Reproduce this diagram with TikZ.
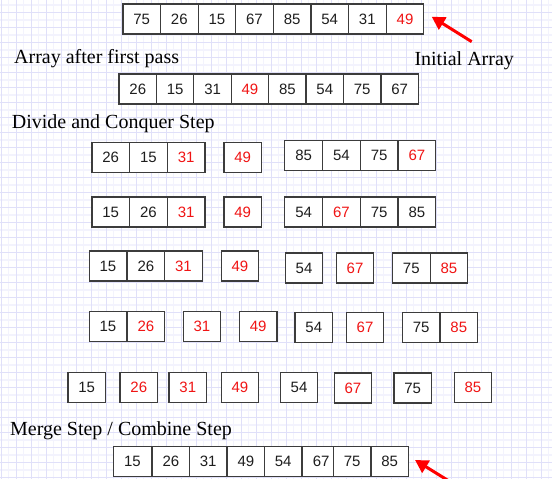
\documentclass[tikz,border=0pt]{standalone}
\usepackage{fontspec}
\setmainfont{Liberation Serif}
\newfontfamily\numfont{Liberation Sans}
\usetikzlibrary{arrows.meta}
\definecolor{gridmaj}{RGB}{224,224,249}
\definecolor{gridmin}{RGB}{243,243,253}
\definecolor{boxc}{RGB}{60,60,60}
\definecolor{numc}{RGB}{30,30,30}
\definecolor{redc}{RGB}{240,20,20}
\definecolor{arrowred}{RGB}{255,0,0}
\begin{document}
\begin{tikzpicture}[x=1pt,y=-1pt,
  cell/.style={draw=boxc,line width=1.2pt,fill=white,minimum width=37.6pt,minimum height=30pt,inner sep=0pt,outer sep=0pt,anchor=north west,font=\numfont\fontsize{15}{18}\selectfont,text=numc},
  hl/.style={text=redc},
  lbl/.style={anchor=base west,inner sep=0pt,font=\fontsize{20}{24}\selectfont},
  redarrow/.style={draw=arrowred,line width=3pt,-{Triangle[length=13pt,width=14pt]}}]
\useasboundingbox (0,0) rectangle (552,479);
\begin{scope}
\clip (0,0) rectangle (552,479);
\fill[white] (0,0) rectangle (552,479);
\foreach \i in {0,...,37} {
  \draw[gridmin,line width=1.6pt] ({8.5+15*\i},0) -- ({8.5+15*\i},479);
  \draw[gridmin,line width=1.6pt] (0,{4.8+15*\i}) -- (552,{4.8+15*\i});
}
\foreach \i in {0,...,37} {
  \draw[gridmaj,line width=0.9pt] ({1+15*\i},0) -- ({1+15*\i},479);
  \draw[gridmaj,line width=0.9pt] (0,{-2.7+15*\i}) -- (552,{-2.7+15*\i});
}

% initial array
\node[cell] (t1) at (122.9,4) {75};
\node[cell] (t2) at (160.5,4) {26};
\node[cell] (t3) at (198.1,4) {15};
\node[cell] (t4) at (235.7,4) {67};
\node[cell] (t5) at (273.3,4) {85};
\node[cell] (t6) at (310.9,4) {54};
\node[cell] (t7) at (348.5,4) {31};
\node[cell,hl] (t8) at (386.2,4) {49};

% after first pass
\node[cell] (s1) at (119,74) {26};
\node[cell] (s2) at (156.4,74) {15};
\node[cell] (s3) at (193.8,74) {31};
\node[cell,hl] (s4) at (231.2,74) {49};
\node[cell] (s5) at (268.6,74) {85};
\node[cell] (s6) at (306,74) {54};
\node[cell] (s7) at (343.4,74) {75};
\node[cell] (s8) at (380.9,74) {67};

% divide row 1
\node[cell] (a1) at (91.9,142.3) {26};
\node[cell] (a2) at (129.7,142.3) {15};
\node[cell,hl] (a3) at (167.3,142.3) {31};
\node[cell,hl] (a4) at (223.9,142.3) {49};
\node[cell] (a5) at (284.8,140.5) {85};
\node[cell] (a6) at (322.6,140.5) {54};
\node[cell] (a7) at (360.4,140.5) {75};
\node[cell,hl] (a8) at (398.1,140.5) {67};

% divide row 2
\node[cell] (b1) at (91.9,197) {15};
\node[cell] (b2) at (129.7,197) {26};
\node[cell,hl] (b3) at (167.3,197) {31};
\node[cell,hl] (b4) at (223.9,197) {49};
\node[cell] (b5) at (284.8,197) {54};
\node[cell,hl] (b6) at (322.6,197) {67};
\node[cell] (b7) at (360.4,197) {75};
\node[cell] (b8) at (398.1,197) {85};

% divide row 3
\node[cell] (c1) at (89.1,251) {15};
\node[cell] (c2) at (127.1,251) {26};
\node[cell,hl] (c3) at (164.6,251) {31};
\node[cell,hl] (c4) at (221.1,251) {49};
\node[cell] (c5) at (285.2,253) {54};
\node[cell,hl] (c6) at (336.2,253) {67};
\node[cell] (c7) at (392.5,253) {75};
\node[cell,hl] (c8) at (430.1,253) {85};

% divide row 4
\node[cell] (d1) at (89.1,311.7) {15};
\node[cell,hl] (d2) at (127.1,311.7) {26};
\node[cell,hl] (d3) at (183.1,311.7) {31};
\node[cell,hl] (d4) at (239.4,311.7) {49};
\node[cell] (d5) at (295,312.7) {54};
\node[cell,hl] (d6) at (346.2,312.7) {67};
\node[cell] (d7) at (402.4,312.7) {75};
\node[cell,hl] (d8) at (440,312.7) {85};

% divide row 5
\node[cell] (e1) at (67.9,372.3) {15};
\node[cell,hl] (e2) at (120,372.3) {26};
\node[cell,hl] (e3) at (169,372.3) {31};
\node[cell,hl] (e4) at (221.1,372.3) {49};
\node[cell] (e5) at (280.2,372.3) {54};
\node[cell,hl] (e6) at (334.1,373) {67};
\node[cell] (e7) at (393.9,373) {75};
\node[cell,hl] (e8) at (454.1,372.3) {85};

% merged
\node[cell] (f1) at (113.7,446.7) {15};
\node[cell] (f2) at (152.1,446.7) {26};
\node[cell] (f3) at (189.4,446.7) {31};
\node[cell] (f4) at (227.1,446.7) {49};
\node[cell] (f5) at (264.4,446.7) {54};
\node[cell] (f6) at (302.3,446.7) {67};
\node[cell] (f7) at (333.3,446.7) {75};
\node[cell,minimum width=37.3pt] (f8) at (371,446.7) {85};

% labels
\node[lbl] (l1) at (14,63.5) {Array after first pass};
\node[lbl] (l2) at (414.3,65) {Initial Array};
\node[lbl] (l3) at (11.7,128.3) {Divide and Conquer Step};
\node[lbl] (l4) at (9.9,435) {Merge Step / Combine Step};

% arrows
\coordinate (p1tail) at (471.7,41.7);
\coordinate (p1tip) at (431.7,16.7);
\draw[redarrow] (p1tail) -- (p1tip);
\coordinate (p2tail) at (457,486);
\coordinate (p2tip) at (415,460);
\draw[redarrow] (p2tail) -- (p2tip);
\end{scope}
\end{tikzpicture}
\end{document}
